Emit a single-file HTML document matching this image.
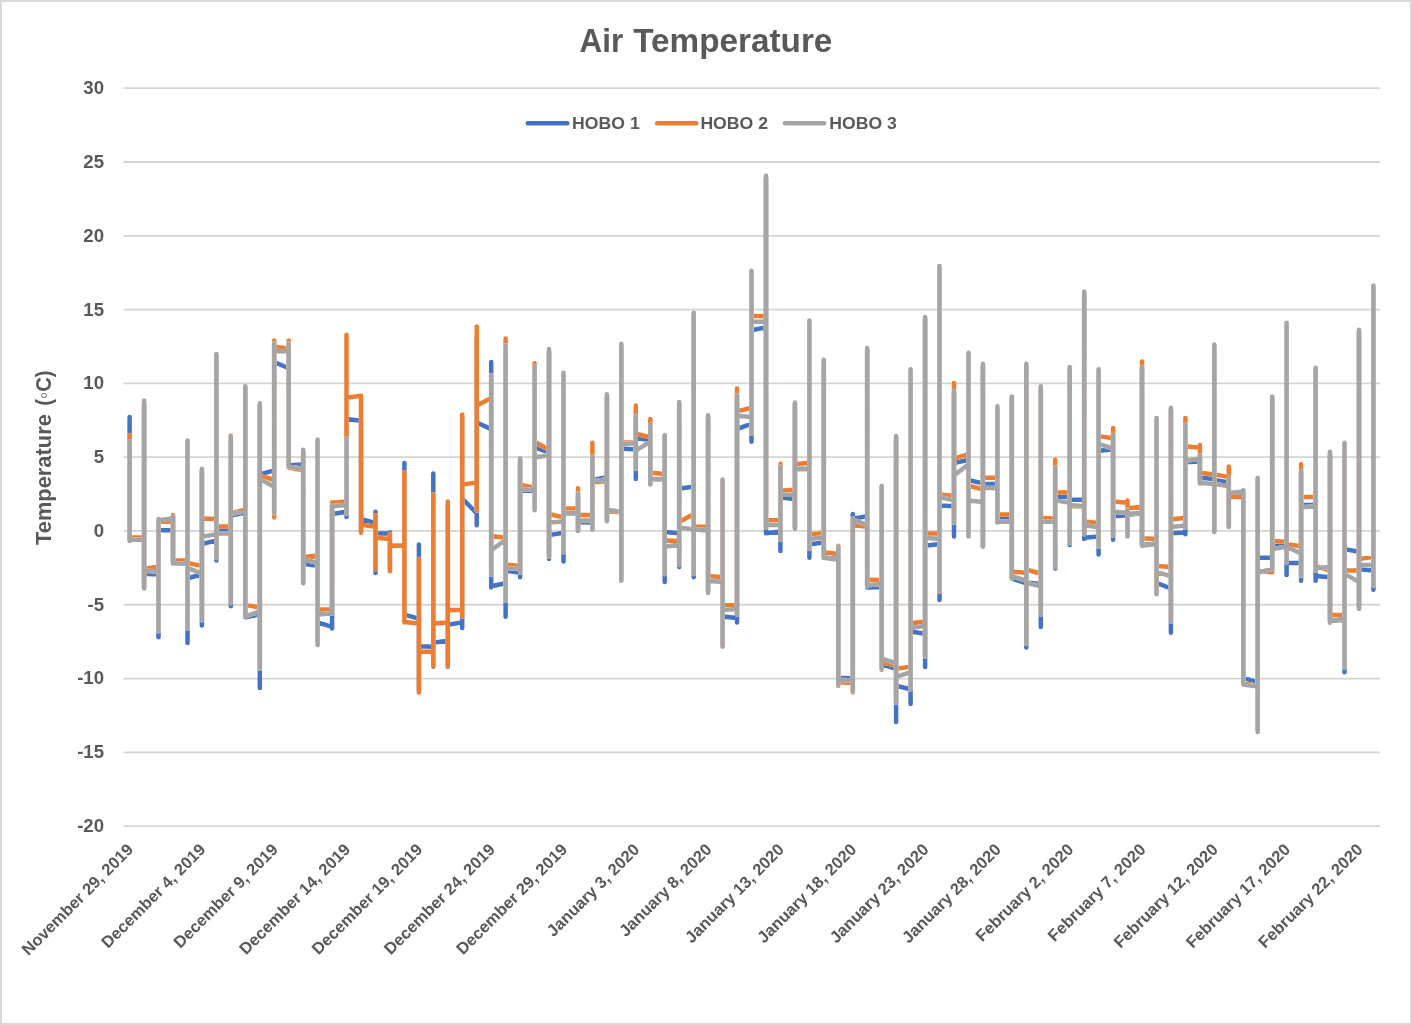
<!DOCTYPE html>
<html><head><meta charset="utf-8"><title>Air Temperature</title>
<style>
html,body{margin:0;padding:0;background:#fff;}
body{width:1412px;height:1025px;position:relative;overflow:hidden;font-family:"Liberation Sans",sans-serif;}
#frame{position:absolute;left:0;top:0;width:1412px;height:1025px;box-sizing:border-box;border:2px solid #D9D9D9;}
</style></head><body>
<svg width="1412" height="1025" viewBox="0 0 1412 1025" style="position:absolute;left:0;top:0;will-change:transform">
<line x1="123.5" x2="1380" y1="88.21" y2="88.21" stroke="#D4D4D4" stroke-width="1.8"/>
<line x1="123.5" x2="1380" y1="162.00" y2="162.00" stroke="#D4D4D4" stroke-width="1.8"/>
<line x1="123.5" x2="1380" y1="235.79" y2="235.79" stroke="#D4D4D4" stroke-width="1.8"/>
<line x1="123.5" x2="1380" y1="309.58" y2="309.58" stroke="#D4D4D4" stroke-width="1.8"/>
<line x1="123.5" x2="1380" y1="383.37" y2="383.37" stroke="#D4D4D4" stroke-width="1.8"/>
<line x1="123.5" x2="1380" y1="457.16" y2="457.16" stroke="#D4D4D4" stroke-width="1.8"/>
<line x1="123.5" x2="1380" y1="530.95" y2="530.95" stroke="#D4D4D4" stroke-width="1.8"/>
<line x1="123.5" x2="1380" y1="604.74" y2="604.74" stroke="#D4D4D4" stroke-width="1.8"/>
<line x1="123.5" x2="1380" y1="678.53" y2="678.53" stroke="#D4D4D4" stroke-width="1.8"/>
<line x1="123.5" x2="1380" y1="752.32" y2="752.32" stroke="#D4D4D4" stroke-width="1.8"/>
<line x1="123.5" x2="1380" y1="826.11" y2="826.11" stroke="#D4D4D4" stroke-width="1.8"/>
<defs>
<path id="pB" d="M129.6 416.9 L129.6 416.9 L129.6 539.8 L129.6 539.1 L144.1 539.1 L144.1 404.0 L144.1 587.0 L144.1 573.7 L158.5 574.5 L158.5 522.1 L158.5 637.2 L158.5 530.2 L173.0 530.2 L173.0 517.7 L173.0 561.9 L173.0 561.9 L187.5 561.9 L187.5 442.4 L187.5 643.1 L187.5 578.2 L201.9 574.5 L201.9 470.4 L201.9 625.4 L201.9 544.1 L216.4 540.4 L216.4 356.8 L216.4 560.5 L216.4 530.2 L230.8 530.2 L230.8 439.5 L230.8 606.2 L230.8 515.5 L245.3 512.5 L245.3 387.8 L245.3 617.3 L245.3 617.3 L259.8 614.3 L259.8 405.5 L259.8 688.0 L259.8 474.4 L274.2 470.4 L274.2 346.5 L274.2 511.8 L274.2 362.0 L288.7 368.2 L288.7 346.5 L288.7 465.3 L288.7 465.3 L303.2 464.5 L303.2 452.7 L303.2 582.6 L303.2 563.7 L317.6 565.9 L317.6 442.4 L317.6 643.1 L317.6 622.4 L332.1 626.9 L332.1 507.3 L332.1 628.4 L332.1 514.0 L346.5 511.8 L346.5 419.1 L346.5 516.9 L346.5 419.1 L361.0 420.7 L361.0 420.3 L361.0 531.0 L361.0 519.1 L375.5 523.0 L375.5 511.8 L375.5 573.0 L375.5 533.2 L389.9 533.6 L389.9 532.4 L389.9 570.8 L389.9 545.7 L404.4 545.7 L404.4 463.1 L404.4 615.1 L404.4 614.6 L418.9 618.6 L418.9 544.5 L418.9 690.3 L418.9 646.2 L433.3 646.7 L433.3 473.4 L433.3 666.7 L433.3 642.8 L447.8 640.6 L447.8 504.4 L447.8 666.7 L447.8 624.8 L462.2 622.4 L462.2 417.3 L462.2 628.1 L462.2 498.5 L476.7 513.2 L476.7 339.1 L476.7 525.3 L476.7 422.5 L491.2 429.1 L491.2 362.0 L491.2 587.5 L491.2 586.3 L505.6 583.3 L505.6 348.0 L505.6 616.8 L505.6 570.5 L520.1 572.7 L520.1 461.6 L520.1 577.3 L520.1 490.4 L534.6 490.8 L534.6 368.6 L534.6 508.8 L534.6 447.3 L549.0 452.3 L549.0 352.4 L549.0 559.1 L549.0 535.1 L563.5 532.7 L563.5 376.0 L563.5 561.6 L563.5 513.2 L578.0 513.2 L578.0 495.5 L578.0 530.2 L578.0 522.1 L592.4 522.4 L592.4 458.6 L592.4 528.7 L592.4 480.0 L606.9 477.1 L606.9 396.7 L606.9 520.6 L606.9 510.3 L621.3 511.8 L621.3 346.5 L621.3 579.7 L621.3 448.5 L635.8 449.6 L635.8 417.3 L635.8 479.0 L635.8 438.0 L650.3 440.0 L650.3 426.2 L650.3 483.7 L650.3 479.3 L664.7 479.3 L664.7 436.5 L664.7 581.9 L664.7 532.1 L679.2 533.2 L679.2 404.0 L679.2 567.1 L679.2 488.4 L693.7 486.8 L693.7 315.5 L693.7 577.3 L693.7 529.5 L708.1 530.2 L708.1 417.3 L708.1 591.5 L708.1 581.1 L722.6 581.1 L722.6 480.8 L722.6 644.6 L722.6 616.4 L737.0 618.0 L737.0 396.7 L737.0 622.4 L737.0 429.1 L751.5 423.7 L751.5 272.7 L751.5 441.7 L751.5 330.2 L766.0 327.3 L766.0 178.2 L766.0 533.2 L766.0 533.2 L780.4 531.4 L780.4 469.0 L780.4 550.9 L780.4 497.4 L794.9 498.9 L794.9 404.0 L794.9 528.0 L794.9 469.0 L809.4 469.0 L809.4 322.9 L809.4 557.7 L809.4 544.5 L823.8 542.3 L823.8 361.2 L823.8 557.5 L823.8 557.5 L838.3 559.0 L838.3 547.2 L838.3 683.0 L838.3 677.8 L852.8 678.5 L852.8 514.0 L852.8 690.3 L852.8 518.6 L867.2 516.2 L867.2 349.4 L867.2 587.5 L867.2 587.5 L881.7 587.0 L881.7 486.7 L881.7 668.2 L881.7 664.4 L896.1 668.8 L896.1 438.0 L896.1 721.9 L896.1 685.8 L910.6 689.2 L910.6 371.6 L910.6 703.9 L910.6 631.5 L925.1 633.8 L925.1 318.4 L925.1 667.0 L925.1 545.7 L939.5 544.1 L939.5 268.3 L939.5 599.9 L939.5 505.6 L954.0 506.2 L954.0 392.2 L954.0 536.6 L954.0 463.1 L968.5 459.8 L968.5 355.3 L968.5 536.1 L968.5 480.0 L982.9 483.4 L982.9 365.7 L982.9 545.7 L982.9 483.9 L997.4 483.9 L997.4 408.5 L997.4 522.1 L997.4 517.8 L1011.8 517.8 L1011.8 398.1 L1011.8 578.5 L1011.8 578.5 L1026.3 583.3 L1026.3 365.7 L1026.3 647.4 L1026.3 582.6 L1040.8 584.1 L1040.8 387.8 L1040.8 626.9 L1040.8 520.6 L1055.2 520.6 L1055.2 469.0 L1055.2 568.6 L1055.2 497.0 L1069.7 497.0 L1069.7 368.6 L1069.7 545.0 L1069.7 499.8 L1084.2 499.8 L1084.2 293.3 L1084.2 538.9 L1084.2 537.7 L1098.6 536.6 L1098.6 371.6 L1098.6 554.6 L1098.6 450.7 L1113.1 449.6 L1113.1 436.5 L1113.1 539.8 L1113.1 516.2 L1127.5 515.2 L1127.5 510.3 L1127.5 536.1 L1127.5 514.7 L1142.0 513.2 L1142.0 368.6 L1142.0 545.0 L1142.0 545.0 L1156.5 543.5 L1156.5 420.3 L1156.5 592.9 L1156.5 582.9 L1170.9 588.5 L1170.9 409.9 L1170.9 632.8 L1170.9 533.2 L1185.4 532.4 L1185.4 426.2 L1185.4 534.3 L1185.4 462.3 L1199.9 461.6 L1199.9 457.2 L1199.9 482.2 L1199.9 477.8 L1214.3 479.0 L1214.3 346.5 L1214.3 531.0 L1214.3 480.0 L1228.8 482.4 L1228.8 479.3 L1228.8 526.5 L1228.8 494.1 L1243.3 492.6 L1243.3 491.1 L1243.3 683.0 L1243.3 677.8 L1257.7 682.4 L1257.7 479.3 L1257.7 730.2 L1257.7 557.7 L1272.2 557.7 L1272.2 398.1 L1272.2 567.8 L1272.2 545.7 L1286.6 545.7 L1286.6 324.3 L1286.6 575.1 L1286.6 563.0 L1301.1 563.0 L1301.1 471.9 L1301.1 580.7 L1301.1 505.1 L1315.6 504.7 L1315.6 370.1 L1315.6 580.7 L1315.6 576.1 L1330.0 577.3 L1330.0 454.2 L1330.0 622.4 L1330.0 621.0 L1344.5 619.5 L1344.5 445.4 L1344.5 672.2 L1344.5 549.1 L1359.0 551.8 L1359.0 331.7 L1359.0 607.7 L1359.0 569.3 L1373.4 570.5 L1373.4 287.4 L1373.4 589.7 L1373.4 589.7" fill="none" stroke-linecap="round" stroke-linejoin="round"/>
<path id="pO" d="M129.6 435.0 L129.6 435.0 L129.6 539.8 L129.6 537.6 L144.1 537.6 L144.1 404.0 L144.1 587.0 L144.1 568.9 L158.5 566.4 L158.5 520.6 L158.5 629.8 L158.5 522.1 L173.0 520.6 L173.0 515.0 L173.0 560.5 L173.0 560.5 L187.5 560.5 L187.5 442.4 L187.5 626.9 L187.5 563.0 L201.9 565.9 L201.9 470.4 L201.9 618.0 L201.9 518.6 L216.4 519.1 L216.4 356.8 L216.4 556.0 L216.4 526.5 L230.8 526.5 L230.8 435.8 L230.8 601.8 L230.8 513.2 L245.3 509.6 L245.3 387.8 L245.3 605.0 L245.3 605.0 L259.8 607.4 L259.8 405.5 L259.8 666.7 L259.8 475.6 L274.2 480.0 L274.2 340.6 L274.2 517.4 L274.2 346.8 L288.7 348.4 L288.7 340.6 L288.7 467.5 L288.7 467.5 L303.2 470.4 L303.2 451.3 L303.2 581.1 L303.2 556.9 L317.6 555.4 L317.6 440.9 L317.6 643.1 L317.6 609.6 L332.1 609.6 L332.1 502.2 L332.1 610.6 L332.1 502.8 L346.5 501.6 L346.5 334.7 L346.5 508.8 L346.5 397.7 L361.0 395.8 L361.0 395.8 L361.0 532.7 L361.0 524.8 L375.5 526.7 L375.5 515.2 L375.5 569.3 L375.5 537.7 L389.9 538.9 L389.9 534.3 L389.9 571.2 L389.9 545.7 L404.4 545.7 L404.4 472.2 L404.4 622.4 L404.4 621.9 L418.9 623.6 L418.9 559.1 L418.9 692.6 L418.9 651.8 L433.3 651.8 L433.3 494.4 L433.3 666.1 L433.3 623.6 L447.8 622.4 L447.8 501.6 L447.8 666.1 L447.8 610.1 L462.2 610.1 L462.2 414.5 L462.2 616.5 L462.2 484.6 L476.7 482.4 L476.7 326.4 L476.7 510.6 L476.7 405.5 L491.2 398.1 L491.2 377.5 L491.2 573.7 L491.2 536.0 L505.6 537.7 L505.6 338.4 L505.6 598.8 L505.6 564.5 L520.1 565.9 L520.1 460.1 L520.1 570.8 L520.1 484.6 L534.6 487.6 L534.6 363.3 L534.6 508.8 L534.6 441.7 L549.0 449.8 L549.0 350.9 L549.0 556.8 L549.0 514.0 L563.5 517.4 L563.5 374.5 L563.5 551.6 L563.5 508.4 L578.0 508.4 L578.0 488.2 L578.0 529.5 L578.0 514.7 L592.4 515.2 L592.4 442.8 L592.4 528.0 L592.4 482.4 L606.9 480.8 L606.9 396.7 L606.9 520.6 L606.9 511.0 L621.3 512.5 L621.3 346.5 L621.3 579.7 L621.3 442.4 L635.8 442.4 L635.8 405.5 L635.8 469.0 L635.8 433.8 L650.3 437.1 L650.3 419.1 L650.3 483.7 L650.3 472.7 L664.7 474.0 L664.7 436.5 L664.7 572.3 L664.7 540.4 L679.2 541.1 L679.2 404.0 L679.2 563.4 L679.2 521.9 L693.7 514.0 L693.7 315.5 L693.7 572.3 L693.7 526.5 L708.1 526.8 L708.1 417.3 L708.1 591.5 L708.1 576.1 L722.6 577.3 L722.6 480.8 L722.6 646.8 L722.6 605.0 L737.0 605.5 L737.0 388.5 L737.0 612.1 L737.0 411.4 L751.5 407.7 L751.5 272.7 L751.5 432.1 L751.5 315.8 L766.0 316.2 L766.0 178.2 L766.0 526.5 L766.0 519.9 L780.4 520.2 L780.4 463.7 L780.4 538.3 L780.4 490.7 L794.9 489.8 L794.9 404.0 L794.9 527.3 L794.9 464.2 L809.4 462.8 L809.4 322.9 L809.4 547.2 L809.4 534.3 L823.8 533.2 L823.8 361.2 L823.8 556.0 L823.8 552.3 L838.3 554.0 L838.3 545.7 L838.3 685.8 L838.3 682.2 L852.8 683.0 L852.8 520.6 L852.8 692.6 L852.8 525.0 L867.2 526.8 L867.2 349.4 L867.2 584.8 L867.2 579.5 L881.7 580.2 L881.7 486.7 L881.7 669.7 L881.7 662.3 L896.1 665.2 L896.1 438.0 L896.1 700.7 L896.1 668.8 L910.6 666.6 L910.6 371.6 L910.6 687.4 L910.6 623.2 L925.1 621.4 L925.1 318.4 L925.1 654.9 L925.1 533.2 L939.5 533.6 L939.5 268.3 L939.5 591.8 L939.5 494.4 L954.0 496.0 L954.0 382.9 L954.0 522.1 L954.0 458.6 L968.5 454.2 L968.5 355.3 L968.5 535.4 L968.5 485.8 L982.9 489.2 L982.9 365.7 L982.9 545.7 L982.9 477.8 L997.4 477.8 L997.4 408.5 L997.4 520.6 L997.4 514.4 L1011.8 514.4 L1011.8 398.1 L1011.8 576.7 L1011.8 571.7 L1026.3 572.7 L1026.3 365.7 L1026.3 641.6 L1026.3 569.8 L1040.8 573.5 L1040.8 387.8 L1040.8 612.1 L1040.8 517.8 L1055.2 518.8 L1055.2 459.8 L1055.2 564.9 L1055.2 492.6 L1069.7 492.6 L1069.7 368.6 L1069.7 541.3 L1069.7 505.9 L1084.2 506.6 L1084.2 293.3 L1084.2 533.2 L1084.2 521.5 L1098.6 523.0 L1098.6 371.6 L1098.6 545.7 L1098.6 436.1 L1113.1 438.3 L1113.1 428.1 L1113.1 533.9 L1113.1 501.6 L1127.5 502.8 L1127.5 500.4 L1127.5 535.4 L1127.5 508.4 L1142.0 506.6 L1142.0 361.4 L1142.0 544.2 L1142.0 538.2 L1156.5 538.9 L1156.5 420.3 L1156.5 592.9 L1156.5 565.9 L1170.9 567.1 L1170.9 409.9 L1170.9 619.5 L1170.9 519.6 L1185.4 517.8 L1185.4 417.9 L1185.4 525.0 L1185.4 446.2 L1199.9 447.7 L1199.9 445.1 L1199.9 480.8 L1199.9 472.7 L1214.3 474.4 L1214.3 346.5 L1214.3 531.0 L1214.3 474.4 L1228.8 477.1 L1228.8 466.6 L1228.8 525.0 L1228.8 497.0 L1243.3 497.0 L1243.3 492.6 L1243.3 683.0 L1243.3 683.0 L1257.7 685.9 L1257.7 479.3 L1257.7 730.2 L1257.7 570.8 L1272.2 572.3 L1272.2 398.1 L1272.2 572.3 L1272.2 541.1 L1286.6 541.7 L1286.6 324.3 L1286.6 560.5 L1286.6 544.1 L1301.1 546.3 L1301.1 464.2 L1301.1 573.7 L1301.1 497.0 L1315.6 497.0 L1315.6 370.1 L1315.6 569.3 L1315.6 565.9 L1330.0 570.5 L1330.0 454.2 L1330.0 619.5 L1330.0 615.1 L1344.5 615.1 L1344.5 445.4 L1344.5 665.2 L1344.5 570.5 L1359.0 570.5 L1359.0 331.7 L1359.0 606.2 L1359.0 559.1 L1373.4 556.9 L1373.4 287.4 L1373.4 584.1 L1373.4 584.1" fill="none" stroke-linecap="round" stroke-linejoin="round"/>
<path id="pG" d="M129.6 441.7 L129.6 441.7 L129.6 541.1 L129.6 539.8 L144.1 539.8 L144.1 400.5 L144.1 588.5 L144.1 570.8 L158.5 571.5 L158.5 519.1 L158.5 631.3 L158.5 520.3 L173.0 518.6 L173.0 516.2 L173.0 563.4 L173.0 563.4 L187.5 563.4 L187.5 440.5 L187.5 628.4 L187.5 567.8 L201.9 573.7 L201.9 468.8 L201.9 620.2 L201.9 536.6 L216.4 534.3 L216.4 354.1 L216.4 558.1 L216.4 533.2 L230.8 533.6 L230.8 437.1 L230.8 603.3 L230.8 514.0 L245.3 511.0 L245.3 386.3 L245.3 616.4 L245.3 616.4 L259.8 611.4 L259.8 403.3 L259.8 668.8 L259.8 479.0 L274.2 486.8 L274.2 343.5 L274.2 513.2 L274.2 351.3 L288.7 350.9 L288.7 343.5 L288.7 466.6 L288.7 466.6 L303.2 468.8 L303.2 449.8 L303.2 583.3 L303.2 559.1 L317.6 563.0 L317.6 439.5 L317.6 645.0 L317.6 614.6 L332.1 613.4 L332.1 505.0 L332.1 613.6 L332.1 506.2 L346.5 505.0 L346.5 438.3 L346.5 514.0 L346.5 514.0 M491.2 375.0 L491.2 375.0 L491.2 575.1 L491.2 550.1 L505.6 540.0 L505.6 345.6 L505.6 601.1 L505.6 568.9 L520.1 568.3 L520.1 458.6 L520.1 572.7 L520.1 489.2 L534.6 489.8 L534.6 366.0 L534.6 510.3 L534.6 457.5 L549.0 455.2 L549.0 349.0 L549.0 555.7 L549.0 522.5 L563.5 521.4 L563.5 372.7 L563.5 552.3 L563.5 512.8 L578.0 512.8 L578.0 493.6 L578.0 531.0 L578.0 520.6 L592.4 520.6 L592.4 456.4 L592.4 529.8 L592.4 481.2 L606.9 479.4 L606.9 394.3 L606.9 521.2 L606.9 510.0 L621.3 511.8 L621.3 343.8 L621.3 580.7 L621.3 443.9 L635.8 443.3 L635.8 415.7 L635.8 468.2 L635.8 450.7 L650.3 441.7 L650.3 424.7 L650.3 484.6 L650.3 479.0 L664.7 479.0 L664.7 435.0 L664.7 573.9 L664.7 546.7 L679.2 544.5 L679.2 402.1 L679.2 564.9 L679.2 527.6 L693.7 529.5 L693.7 312.8 L693.7 573.9 L693.7 529.5 L708.1 530.2 L708.1 415.2 L708.1 593.1 L708.1 580.7 L722.6 581.9 L722.6 479.4 L722.6 646.2 L722.6 610.1 L737.0 608.9 L737.0 395.3 L737.0 614.6 L737.0 415.7 L751.5 416.9 L751.5 270.8 L751.5 433.8 L751.5 321.8 L766.0 321.4 L766.0 175.7 L766.0 527.6 L766.0 524.8 L780.4 525.0 L780.4 466.6 L780.4 540.0 L780.4 494.8 L794.9 494.4 L794.9 402.6 L794.9 528.7 L794.9 468.8 L809.4 468.8 L809.4 320.4 L809.4 549.1 L809.4 538.9 L823.8 537.3 L823.8 359.8 L823.8 558.1 L823.8 557.7 L838.3 559.9 L838.3 546.7 L838.3 684.6 L838.3 679.7 L852.8 680.6 L852.8 518.6 L852.8 691.4 L852.8 519.7 L867.2 524.8 L867.2 348.0 L867.2 586.3 L867.2 585.3 L881.7 584.1 L881.7 485.8 L881.7 668.8 L881.7 658.6 L896.1 663.2 L896.1 436.1 L896.1 702.7 L896.1 676.8 L910.6 672.2 L910.6 369.3 L910.6 689.2 L910.6 628.1 L925.1 625.8 L925.1 317.0 L925.1 656.4 L925.1 537.7 L939.5 538.9 L939.5 266.0 L939.5 590.9 L939.5 497.0 L954.0 500.4 L954.0 390.9 L954.0 523.0 L954.0 475.6 L968.5 464.2 L968.5 352.8 L968.5 536.6 L968.5 500.4 L982.9 502.0 L982.9 363.7 L982.9 546.7 L982.9 488.0 L997.4 488.0 L997.4 406.2 L997.4 522.4 L997.4 521.8 L1011.8 521.8 L1011.8 396.5 L1011.8 578.5 L1011.8 576.1 L1026.3 580.7 L1026.3 363.7 L1026.3 644.0 L1026.3 582.9 L1040.8 586.3 L1040.8 386.3 L1040.8 614.6 L1040.8 521.8 L1055.2 521.8 L1055.2 467.6 L1055.2 567.1 L1055.2 500.4 L1069.7 502.9 L1069.7 367.1 L1069.7 543.3 L1069.7 505.0 L1084.2 506.2 L1084.2 291.6 L1084.2 534.3 L1084.2 525.3 L1098.6 527.3 L1098.6 369.3 L1098.6 546.7 L1098.6 443.9 L1113.1 448.5 L1113.1 435.0 L1113.1 535.4 L1113.1 511.8 L1127.5 512.8 L1127.5 509.6 L1127.5 536.6 L1127.5 514.0 L1142.0 512.8 L1142.0 367.1 L1142.0 545.7 L1142.0 545.7 L1156.5 544.1 L1156.5 417.9 L1156.5 594.3 L1156.5 572.1 L1170.9 576.1 L1170.9 407.7 L1170.9 621.4 L1170.9 527.0 L1185.4 525.6 L1185.4 424.7 L1185.4 527.6 L1185.4 460.8 L1199.9 458.6 L1199.9 455.2 L1199.9 483.4 L1199.9 483.0 L1214.3 483.9 L1214.3 344.6 L1214.3 532.1 L1214.3 483.9 L1228.8 486.2 L1228.8 477.8 L1228.8 527.0 L1228.8 493.0 L1243.3 491.4 L1243.3 490.2 L1243.3 684.6 L1243.3 684.6 L1257.7 686.5 L1257.7 477.8 L1257.7 732.1 L1257.7 572.7 L1272.2 568.9 L1272.2 396.5 L1272.2 569.3 L1272.2 549.1 L1286.6 546.7 L1286.6 322.7 L1286.6 562.5 L1286.6 546.7 L1301.1 553.5 L1301.1 471.0 L1301.1 576.1 L1301.1 507.2 L1315.6 506.6 L1315.6 367.7 L1315.6 570.5 L1315.6 568.3 L1330.0 567.1 L1330.0 451.8 L1330.0 621.4 L1330.0 620.2 L1344.5 619.1 L1344.5 442.8 L1344.5 667.6 L1344.5 573.9 L1359.0 581.9 L1359.0 329.7 L1359.0 608.9 L1359.0 564.9 L1373.4 564.9 L1373.4 285.4 L1373.4 585.6 L1373.4 585.6" fill="none" stroke-linecap="round" stroke-linejoin="round"/>
<mask id="mG" maskUnits="userSpaceOnUse" x="0" y="0" width="1412" height="1025"><rect width="1412" height="1025" fill="#fff"/><use href="#pG" stroke="#000" stroke-width="4.5"/></mask>
<mask id="mOG" maskUnits="userSpaceOnUse" x="0" y="0" width="1412" height="1025"><rect width="1412" height="1025" fill="#fff"/><use href="#pO" stroke="#000" stroke-width="4.5"/><use href="#pG" stroke="#000" stroke-width="4.5"/></mask>
</defs>
<use href="#pB" stroke="#4472C4" stroke-width="4.5" mask="url(#mOG)"/>
<use href="#pO" stroke="#ED7D31" stroke-width="4.5" mask="url(#mG)"/>
<use href="#pG" stroke="#A5A5A5" stroke-width="4.5"/>
<text x="579.6" y="52.4" font-size="32.5" textLength="43.6" lengthAdjust="spacingAndGlyphs" font-family="Liberation Sans, sans-serif" font-weight="bold" fill="#595959">Air</text>
<text x="633.2" y="52.4" font-size="32.5" textLength="199.2" lengthAdjust="spacingAndGlyphs" font-family="Liberation Sans, sans-serif" font-weight="bold" fill="#595959">Temperature</text>
<line x1="527.8" x2="567.3" y1="123.2" y2="123.2" stroke="#4472C4" stroke-width="4.5" stroke-linecap="round"/>
<text x="572.1" y="128.9" font-size="17.1" textLength="67.6" lengthAdjust="spacingAndGlyphs" font-family="Liberation Sans, sans-serif" font-weight="bold" fill="#595959">HOBO 1</text>
<line x1="657.2" x2="696.2" y1="123.2" y2="123.2" stroke="#ED7D31" stroke-width="4.5" stroke-linecap="round"/>
<text x="700.4" y="128.9" font-size="17.1" textLength="67.6" lengthAdjust="spacingAndGlyphs" font-family="Liberation Sans, sans-serif" font-weight="bold" fill="#595959">HOBO 2</text>
<line x1="785.0" x2="824.2" y1="123.2" y2="123.2" stroke="#A5A5A5" stroke-width="4.5" stroke-linecap="round"/>
<text x="829.3" y="128.9" font-size="17.1" textLength="67.6" lengthAdjust="spacingAndGlyphs" font-family="Liberation Sans, sans-serif" font-weight="bold" fill="#595959">HOBO 3</text>
<text x="104" y="94.1" font-size="18.6" text-anchor="end" font-family="Liberation Sans, sans-serif" font-weight="bold" fill="#595959">30</text>
<text x="104" y="167.9" font-size="18.6" text-anchor="end" font-family="Liberation Sans, sans-serif" font-weight="bold" fill="#595959">25</text>
<text x="104" y="241.7" font-size="18.6" text-anchor="end" font-family="Liberation Sans, sans-serif" font-weight="bold" fill="#595959">20</text>
<text x="104" y="315.5" font-size="18.6" text-anchor="end" font-family="Liberation Sans, sans-serif" font-weight="bold" fill="#595959">15</text>
<text x="104" y="389.3" font-size="18.6" text-anchor="end" font-family="Liberation Sans, sans-serif" font-weight="bold" fill="#595959">10</text>
<text x="104" y="463.1" font-size="18.6" text-anchor="end" font-family="Liberation Sans, sans-serif" font-weight="bold" fill="#595959">5</text>
<text x="104" y="536.9" font-size="18.6" text-anchor="end" font-family="Liberation Sans, sans-serif" font-weight="bold" fill="#595959">0</text>
<text x="104" y="610.6" font-size="18.6" text-anchor="end" font-family="Liberation Sans, sans-serif" font-weight="bold" fill="#595959">-5</text>
<text x="104" y="684.4" font-size="18.6" text-anchor="end" font-family="Liberation Sans, sans-serif" font-weight="bold" fill="#595959">-10</text>
<text x="104" y="758.2" font-size="18.6" text-anchor="end" font-family="Liberation Sans, sans-serif" font-weight="bold" fill="#595959">-15</text>
<text x="104" y="832.0" font-size="18.6" text-anchor="end" font-family="Liberation Sans, sans-serif" font-weight="bold" fill="#595959">-20</text>
<text transform="translate(51,545) rotate(-90)" font-size="22" textLength="130.8" lengthAdjust="spacingAndGlyphs" font-family="Liberation Sans, sans-serif" font-weight="bold" fill="#595959">Temperature</text>
<text transform="translate(51,405.8) rotate(-90)" font-size="22" textLength="35.4" lengthAdjust="spacingAndGlyphs" font-family="Liberation Sans, sans-serif" font-weight="bold" fill="#595959">(◦C)</text>
<text transform="translate(134.3,850.5) rotate(-45)" font-size="16.5" text-anchor="end" font-family="Liberation Sans, sans-serif" font-weight="bold" fill="#595959">November 29, 2019</text>
<text transform="translate(206.6,850.5) rotate(-45)" font-size="16.5" text-anchor="end" font-family="Liberation Sans, sans-serif" font-weight="bold" fill="#595959">December 4, 2019</text>
<text transform="translate(278.9,850.5) rotate(-45)" font-size="16.5" text-anchor="end" font-family="Liberation Sans, sans-serif" font-weight="bold" fill="#595959">December 9, 2019</text>
<text transform="translate(351.2,850.5) rotate(-45)" font-size="16.5" text-anchor="end" font-family="Liberation Sans, sans-serif" font-weight="bold" fill="#595959">December 14, 2019</text>
<text transform="translate(423.6,850.5) rotate(-45)" font-size="16.5" text-anchor="end" font-family="Liberation Sans, sans-serif" font-weight="bold" fill="#595959">December 19, 2019</text>
<text transform="translate(495.9,850.5) rotate(-45)" font-size="16.5" text-anchor="end" font-family="Liberation Sans, sans-serif" font-weight="bold" fill="#595959">December 24, 2019</text>
<text transform="translate(568.2,850.5) rotate(-45)" font-size="16.5" text-anchor="end" font-family="Liberation Sans, sans-serif" font-weight="bold" fill="#595959">December 29, 2019</text>
<text transform="translate(640.5,850.5) rotate(-45)" font-size="16.5" text-anchor="end" font-family="Liberation Sans, sans-serif" font-weight="bold" fill="#595959">January 3, 2020</text>
<text transform="translate(712.8,850.5) rotate(-45)" font-size="16.5" text-anchor="end" font-family="Liberation Sans, sans-serif" font-weight="bold" fill="#595959">January 8, 2020</text>
<text transform="translate(785.1,850.5) rotate(-45)" font-size="16.5" text-anchor="end" font-family="Liberation Sans, sans-serif" font-weight="bold" fill="#595959">January 13, 2020</text>
<text transform="translate(857.5,850.5) rotate(-45)" font-size="16.5" text-anchor="end" font-family="Liberation Sans, sans-serif" font-weight="bold" fill="#595959">January 18, 2020</text>
<text transform="translate(929.8,850.5) rotate(-45)" font-size="16.5" text-anchor="end" font-family="Liberation Sans, sans-serif" font-weight="bold" fill="#595959">January 23, 2020</text>
<text transform="translate(1002.1,850.5) rotate(-45)" font-size="16.5" text-anchor="end" font-family="Liberation Sans, sans-serif" font-weight="bold" fill="#595959">January 28, 2020</text>
<text transform="translate(1074.4,850.5) rotate(-45)" font-size="16.5" text-anchor="end" font-family="Liberation Sans, sans-serif" font-weight="bold" fill="#595959">February 2, 2020</text>
<text transform="translate(1146.7,850.5) rotate(-45)" font-size="16.5" text-anchor="end" font-family="Liberation Sans, sans-serif" font-weight="bold" fill="#595959">February 7, 2020</text>
<text transform="translate(1219.0,850.5) rotate(-45)" font-size="16.5" text-anchor="end" font-family="Liberation Sans, sans-serif" font-weight="bold" fill="#595959">February 12, 2020</text>
<text transform="translate(1291.3,850.5) rotate(-45)" font-size="16.5" text-anchor="end" font-family="Liberation Sans, sans-serif" font-weight="bold" fill="#595959">February 17, 2020</text>
<text transform="translate(1363.7,850.5) rotate(-45)" font-size="16.5" text-anchor="end" font-family="Liberation Sans, sans-serif" font-weight="bold" fill="#595959">February 22, 2020</text>
</svg>
<div id="frame"></div>
</body></html>
